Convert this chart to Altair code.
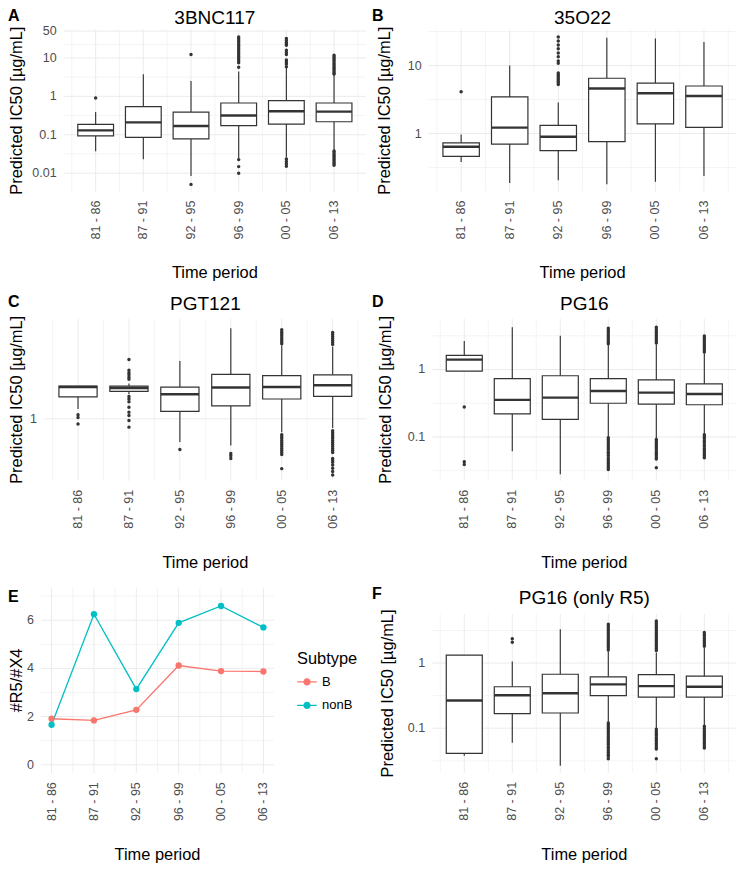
import altair as alt
import pandas as pd

W, H = 729, 855
FONT = "Liberation Sans"
DARK = "#333333"
GRID = "#EBEBEB"
LABEL_GREY = "#4D4D4D"

periods = ["81 - 86", "87 - 91", "92 - 95", "96 - 99", "00 - 05", "06 - 13"]
positions = [1, 2, 3, 4, 5, 6]

# ---------------- Panel A : 3BNC117 ----------------
A_lo = [0.037, 0.023, 0.0084, 0.0245, 0.026, 0.04]
A_q1 = [0.093, 0.085, 0.078, 0.172, 0.19, 0.218]
A_med = [0.13, 0.21, 0.169, 0.318, 0.41, 0.40]
A_q3 = [0.186, 0.54, 0.39, 0.67, 0.77, 0.67]
A_hi = [0.39, 3.76, 2.5, 4.4, 5.5, 3.6]
A_out = [
    [0.9],
    [],
    [12.3, 0.0051],
    [35, 31, 27.6, 24.5, 21.8, 19.4, 17.2, 15.3, 13.6, 12.1, 10.7, 9.5, 8.4, 7.5, 5.7,
     0.0225, 0.0148, 0.01],
    [31.8, 28.3, 25, 23, 21.4, 15.9, 13.9, 12.3, 8.8, 7.8, 6.9, 5.9,
     0.0234, 0.02, 0.0177, 0.0152],
    [11.8, 10.7, 9.7, 8.8, 8.0, 7.2, 6.5, 5.9, 5.4, 4.9, 4.4, 4.0, 3.8,
     0.038, 0.035, 0.031, 0.0285, 0.026, 0.0234, 0.0213, 0.0193, 0.0175, 0.016],
]

# ---------------- Panel B : 35O22 ----------------
B_lo = [0.38, 0.188, 0.205, 0.18, 0.195, 0.237]
B_q1 = [0.46, 0.70, 0.56, 0.76, 1.39, 1.23]
B_med = [0.64, 1.22, 0.895, 4.6, 3.9, 3.57]
B_q3 = [0.73, 3.45, 1.32, 6.5, 5.5, 5.0]
B_hi = [0.97, 10.0, 2.86, 25.6, 25.0, 22.2]
B_out = [
    [4.1],
    [],
    [26.2, 23.0, 20.0, 17.6, 15.3, 13.4, 11.7, 10.8,
     7.76, 7.32, 6.93, 6.56, 6.21, 5.88, 5.56, 5.26],
    [],
    [],
    [],
]

# ---------------- Panel C : PGT121 ----------------
C_lo = [1.148, 1.41, 0.724, 0.69, 0.83, 0.88]
C_q1 = [1.36, 1.47, 1.11, 1.20, 1.32, 1.37]
C_med = [1.56, 1.54, 1.41, 1.55, 1.56, 1.60]
C_q3 = [1.58, 1.58, 1.56, 1.86, 1.83, 1.85]
C_hi = [1.585, 1.64, 2.24, 3.55, 2.8, 2.75]
C_out = [
    [1.06, 1.02, 0.93],
    [2.29, 1.97, 1.905, 1.85, 1.79, 1.74,
     1.367, 1.318, 1.27, 1.175, 1.096, 1.047, 0.977, 0.891],
    [0.652],
    [0.617, 0.597, 0.575],
    [3.47, 3.37, 3.28, 3.19, 3.10, 3.02, 2.94, 2.86,
     0.80, 0.78, 0.76, 0.738, 0.718, 0.698, 0.679, 0.66, 0.642, 0.625, 0.608, 0.499],
    [3.34, 3.25, 3.16, 3.07, 2.99, 2.91, 2.83,
     0.847, 0.824, 0.80, 0.78, 0.76, 0.738, 0.718, 0.698, 0.679, 0.66, 0.642, 0.625,
     0.575, 0.56, 0.545, 0.525, 0.501, 0.479, 0.457],
]

# ---------------- Panel D : PG16 ----------------
D_lo = [0.945, 0.0616, 0.028, 0.1, 0.095, 0.11]
D_q1 = [0.945, 0.22, 0.182, 0.316, 0.306, 0.30]
D_med = [1.40, 0.354, 0.383, 0.48, 0.454, 0.434]
D_q3 = [1.62, 0.73, 0.807, 0.73, 0.70, 0.61]
D_hi = [2.64, 4.24, 3.16, 2.3, 2.35, 1.78]
D_out = [
    [0.279, 0.0429, 0.039],
    [],
    [],
    [4.1, 3.83, 3.58, 3.35, 3.13, 2.93, 2.74, 2.56, 2.41,
     0.097, 0.091, 0.085, 0.079, 0.074, 0.069, 0.065, 0.06, 0.057, 0.053, 0.049, 0.046,
     0.043, 0.04, 0.0375, 0.035, 0.033],
    [4.24, 3.96, 3.70, 3.46, 3.24, 3.02, 2.83, 2.64, 2.47,
     0.092, 0.086, 0.080, 0.075, 0.07, 0.066, 0.061, 0.057, 0.054, 0.05, 0.047, 0.035],
    [3.13, 2.93, 2.73, 2.55, 2.39, 2.23, 2.08, 1.95, 1.82,
     0.108, 0.101, 0.095, 0.088, 0.083, 0.077, 0.072, 0.067, 0.063, 0.059, 0.055, 0.052, 0.049],
]

# ---------------- Panel E : #R5/#X4 ----------------
subtypes = ["B", "nonB"]
subtype_colors = ["#F8766D", "#00BFC4"]
E_B = [1.91, 1.84, 2.28, 4.12, 3.89, 3.87]
E_nonB = [1.66, 6.25, 3.14, 5.89, 6.59, 5.70]

# ---------------- Panel F : PG16 (only R5) ----------------
F_lo = [0.0376, 0.06, 0.0265, 0.125, 0.1, 0.11]
F_q1 = [0.041, 0.167, 0.171, 0.316, 0.30, 0.30]
F_med = [0.266, 0.32, 0.343, 0.47, 0.443, 0.433]
F_q3 = [1.32, 0.433, 0.673, 0.614, 0.666, 0.628]
F_hi = [1.32, 1.06, 3.31, 1.5, 1.45, 1.7]
F_out = [
    [],
    [2.36, 2.08],
    [],
    [3.95, 3.68, 3.43, 3.2, 2.98, 2.78, 2.59, 2.42, 2.26, 2.1, 1.96, 1.83, 1.71, 1.59,
     0.12, 0.112, 0.104, 0.097, 0.091, 0.085, 0.079, 0.074, 0.069, 0.064, 0.06, 0.056,
     0.052, 0.049, 0.045, 0.042, 0.039, 0.037, 0.034],
    [4.43, 4.13, 3.85, 3.59, 3.35, 3.13, 2.92, 2.72, 2.54, 2.37, 2.21, 2.06, 1.92, 1.79,
     1.67, 1.56,
     0.096, 0.089, 0.083, 0.078, 0.072, 0.067, 0.063, 0.059, 0.055, 0.051, 0.048, 0.034],
    [2.95, 2.75, 2.57, 2.39, 2.23, 2.08, 1.94, 1.81,
     0.107, 0.1, 0.093, 0.087, 0.081, 0.076, 0.071, 0.066, 0.061, 0.057, 0.053, 0.0497],
]

# axis tick / grid values and tick labels
X_MAJOR = [1, 2, 3, 4, 5, 6]
X_MINOR = [0.5, 1.5, 2.5, 3.5, 4.5, 5.5, 6.5]
E_X_MINOR = [1.5, 2.5, 3.5, 4.5, 5.5]
A_Y_MAJOR, A_Y_LABELS, A_Y_MINOR = [0.01, 0.1, 1, 10, 50], ["0.01", "0.1", "1", "10", "50"], [0.0316, 0.316, 3.162, 22.36]
B_Y_MAJOR, B_Y_LABELS, B_Y_MINOR = [1, 10], ["1", "10"], [0.316, 3.162, 31.62]
C_Y_MAJOR, C_Y_LABELS, C_Y_MINOR = [1], ["1"], []
D_Y_MAJOR, D_Y_LABELS, D_Y_MINOR = [0.1, 1], ["0.1", "1"], [0.0316, 0.316, 3.162]
E_Y_MAJOR, E_Y_LABELS, E_Y_MINOR = [0, 2, 4, 6], ["0", "2", "4", "6"], [1, 3, 5, 7]

X_DOMAIN = [0.33, 6.67]
E_X_DOMAIN = [0.75, 6.25]
BOX_HALF = 0.375
YTITLE = "Predicted IC50 [µg/mL]"
XTITLE = "Time period"
AXIS_TITLE_SIZE = 16.4

# ---------------- layout (pixels inside the single view) ----------------
GEOM = {
    "A": dict(pl=55.7, pr=358.0, pt=21.7, pb=183.6, ytx=8.5, lx=0, ly=13.0, ty=15.5, xty=264.5),
    "B": dict(pl=420.6, pr=728.5, pt=21.7, pb=183.6, ytx=376.8, lx=364, ly=13.0, ty=15.5, xty=264.5),
    "C": dict(pl=35.9, pr=358.8, pt=310.9, pb=472.8, ytx=8.5, lx=0, ly=298.8, ty=302.0, xty=555.4),
    "D": dict(pl=424.1, pr=728.5, pt=310.9, pb=472.8, ytx=377.8, lx=364, ly=298.8, ty=302.0, xty=555.4),
    "E": dict(pl=33.0, pr=266.0, pt=579.7, pb=765.2, ytx=8.5, lx=0, ly=594.2, ty=595.5, xty=846.6),
    "F": dict(pl=424.1, pr=728.5, pt=606.0, pb=764.9, ytx=379.8, lx=364, ly=591.2, ty=595.5, xty=846.6),
}


def grid_layers(xs, ys, xdom, ydom, xmaj, xmin, ymaj, ymin):
    vg = pd.DataFrame({"g": xmaj + xmin,
                       "w": [1.0] * len(xmaj) + [0.55] * len(xmin),
                       "y0": ydom[0], "y1": ydom[1]})
    hg = pd.DataFrame({"g": ymaj + ymin,
                       "w": [1.0] * len(ymaj) + [0.55] * len(ymin),
                       "x0": xdom[0], "x1": xdom[1]})
    v = alt.Chart(vg).mark_rule(color=GRID).encode(
        x=alt.X("g:Q", scale=xs, axis=None),
        y=alt.Y("y0:Q", scale=ys, axis=None), y2="y1:Q",
        strokeWidth=alt.StrokeWidth("w:Q", scale=None))
    h = alt.Chart(hg).mark_rule(color=GRID).encode(
        x=alt.X("x0:Q", scale=xs, axis=None), x2="x1:Q",
        y=alt.Y("g:Q", scale=ys, axis=None),
        strokeWidth=alt.StrokeWidth("w:Q", scale=None))
    return [v, h]


def axis_text_layers(p, xs, ys, ymaj, ylabels, ytitle):
    """Tick labels and axis titles, placed through the panel's own scales."""
    xl = alt.Chart(pd.DataFrame({"pos": positions, "label": periods})).mark_text(
        angle=270, align="right", baseline="middle", font=FONT, fontSize=12.5,
        color=LABEL_GREY
    ).encode(x=alt.X("pos:Q", scale=xs, axis=None), y=alt.value(p["pb"] + 9),
             text="label:N")
    yl = alt.Chart(pd.DataFrame({"v": ymaj, "label": ylabels})).mark_text(
        align="right", baseline="middle", font=FONT, fontSize=12.5, color=LABEL_GREY
    ).encode(y=alt.Y("v:Q", scale=ys, axis=None), x=alt.value(p["pl"] - 7),
             text="label:N")
    xt = alt.Chart(pd.DataFrame({"t": [XTITLE]})).mark_text(
        align="center", baseline="middle", font=FONT, fontSize=AXIS_TITLE_SIZE, color="black"
    ).encode(text="t:N", x=alt.value((p["pl"] + p["pr"]) / 2), y=alt.value(p["xty"]))
    yt = alt.Chart(pd.DataFrame({"t": [ytitle]})).mark_text(
        angle=270, align="center", baseline="middle", font=FONT, fontSize=AXIS_TITLE_SIZE,
        color="black"
    ).encode(text="t:N", x=alt.value(p["ytx"]), y=alt.value((p["pt"] + p["pb"]) / 2))
    return [xl, yl, xt, yt]


def title_layers(p, title, letter):
    out = []
    if title:
        out.append(alt.Chart(pd.DataFrame({"t": [title]})).mark_text(
            align="center", baseline="alphabetic", font=FONT, fontSize=19, color="black"
        ).encode(text="t:N", x=alt.value((p["pl"] + p["pr"]) / 2), y=alt.value(p["ty"])))
    out.append(alt.Chart(pd.DataFrame({"t": [letter]})).mark_text(
        align="left", baseline="alphabetic", font=FONT, fontSize=16, fontWeight="bold",
        color="black").encode(text="t:N", x=alt.value(p["lx"]), y=alt.value(p["ly"])))
    return out


def box_panel(key, lo, q1, med, q3, hi, outs, ydom, ymaj, ylabels, ymin, title):
    p = GEOM[key]
    xs = alt.Scale(domain=X_DOMAIN, range=[p["pl"], p["pr"]], nice=False)
    ys = alt.Scale(type="log", domain=ydom, range=[p["pb"], p["pt"]], nice=False)
    df = pd.DataFrame({"pos": positions, "lo": lo, "q1": q1, "med": med, "q3": q3, "hi": hi})
    df["xl"] = df["pos"] - BOX_HALF
    df["xr"] = df["pos"] + BOX_HALF
    odf = pd.DataFrame([(i + 1, v) for i, vals in enumerate(outs) for v in vals],
                       columns=["pos", "val"])

    layers = grid_layers(xs, ys, X_DOMAIN, ydom, X_MAJOR, X_MINOR, ymaj, ymin)
    base = alt.Chart(df)
    layers.append(base.mark_rule(color=DARK, strokeWidth=1.15).encode(
        x=alt.X("pos:Q", scale=xs, axis=None),
        y=alt.Y("lo:Q", scale=ys, axis=None), y2="q1:Q"))
    layers.append(base.mark_rule(color=DARK, strokeWidth=1.15).encode(
        x=alt.X("pos:Q", scale=xs, axis=None),
        y=alt.Y("q3:Q", scale=ys, axis=None), y2="hi:Q"))
    layers.append(base.mark_rect(fill="white", stroke=DARK, strokeWidth=1.2).encode(
        x=alt.X("xl:Q", scale=xs, axis=None), x2="xr:Q",
        y=alt.Y("q1:Q", scale=ys, axis=None), y2="q3:Q"))
    layers.append(base.mark_rule(color=DARK, strokeWidth=2.4).encode(
        x=alt.X("xl:Q", scale=xs, axis=None), x2="xr:Q",
        y=alt.Y("med:Q", scale=ys, axis=None)))
    layers.append(alt.Chart(odf).mark_circle(color=DARK, size=12, opacity=1).encode(
        x=alt.X("pos:Q", scale=xs, axis=None),
        y=alt.Y("val:Q", scale=ys, axis=None)))
    layers += axis_text_layers(p, xs, ys, ymaj, ylabels, YTITLE)
    layers += title_layers(p, title, key)
    return alt.layer(*layers)


panel_A = box_panel("A", A_lo, A_q1, A_med, A_q3, A_hi, A_out, [0.00331, 54.2],
                    A_Y_MAJOR, A_Y_LABELS, A_Y_MINOR, "3BNC117")
panel_B = box_panel("B", B_lo, B_q1, B_med, B_q3, B_hi, B_out, [0.140, 33.6],
                    B_Y_MAJOR, B_Y_LABELS, B_Y_MINOR, "35O22")
panel_C = box_panel("C", C_lo, C_q1, C_med, C_q3, C_hi, C_out, [0.421, 4.04],
                    C_Y_MAJOR, C_Y_LABELS, C_Y_MINOR, "PGT121")
panel_D = box_panel("D", D_lo, D_q1, D_med, D_q3, D_hi, D_out, [0.0224, 5.62],
                    D_Y_MAJOR, D_Y_LABELS, D_Y_MINOR, "PG16")
panel_F = box_panel("F", F_lo, F_q1, F_med, F_q3, F_hi, F_out, [0.0206, 5.66],
                    D_Y_MAJOR, D_Y_LABELS, D_Y_MINOR, "PG16 (only R5)")

# ---------------- Panel E ----------------
pE = GEOM["E"]
E_YDOM = [-0.35, 7.35]
exs = alt.Scale(domain=E_X_DOMAIN, range=[pE["pl"], pE["pr"]], nice=False)
eys = alt.Scale(domain=E_YDOM, range=[pE["pb"], pE["pt"]], nice=False, zero=False)
e_df = pd.DataFrame({"pos": positions * 2, "val": E_B + E_nonB,
                     "Subtype": [subtypes[0]] * 6 + [subtypes[1]] * 6})
# legend key: short line segments on both sides of a dot (filled shapes only)
legend_symbol = ("M-1,-0.065L-0.36,-0.065L-0.36,0.065L-1,0.065Z"
                 "M0.36,-0.065L1,-0.065L1,0.065L0.36,0.065Z"
                 "M-0.37,0A0.37,0.37,0,1,0,0.37,0A0.37,0.37,0,1,0,-0.37,0Z")
e_scale = alt.Scale(domain=subtypes, range=subtype_colors)
e_legend = alt.Legend(
    orient="none", legendX=289, legendY=642.5, padding=0,
    title="Subtype", titleFont=FONT, titleFontSize=AXIS_TITLE_SIZE,
    titleFontWeight="normal", titleColor="black", titlePadding=5,
    labelFont=FONT, labelFontSize=13, labelColor="black", labelOffset=5,
    symbolType=legend_symbol, symbolSize=380, symbolStrokeWidth=0,
    symbolOpacity=1, rowPadding=6.5)
E_layers = grid_layers(exs, eys, E_X_DOMAIN, E_YDOM, X_MAJOR, E_X_MINOR, E_Y_MAJOR, E_Y_MINOR)
E_layers.append(alt.Chart(e_df).mark_line(strokeWidth=1.3).encode(
    x=alt.X("pos:Q", scale=exs, axis=None),
    y=alt.Y("val:Q", scale=eys, axis=None),
    color=alt.Color("Subtype:N", scale=e_scale, legend=e_legend)))
E_layers.append(alt.Chart(e_df).mark_circle(size=40, opacity=1).encode(
    x=alt.X("pos:Q", scale=exs, axis=None),
    y=alt.Y("val:Q", scale=eys, axis=None),
    color=alt.Color("Subtype:N", scale=e_scale, legend=e_legend)))
E_layers += axis_text_layers(pE, exs, eys, E_Y_MAJOR, E_Y_LABELS, "#R5/#X4")
E_layers += title_layers(pE, "", "E")
panel_E = alt.layer(*E_layers)

chart = alt.layer(panel_A, panel_B, panel_C, panel_D, panel_E, panel_F).resolve_scale(
    x="independent", y="independent"
).properties(width=W, height=H, padding=0).configure_view(stroke=None)

chart.save("out.html", embed_options={"renderer": "svg", "actions": False})
